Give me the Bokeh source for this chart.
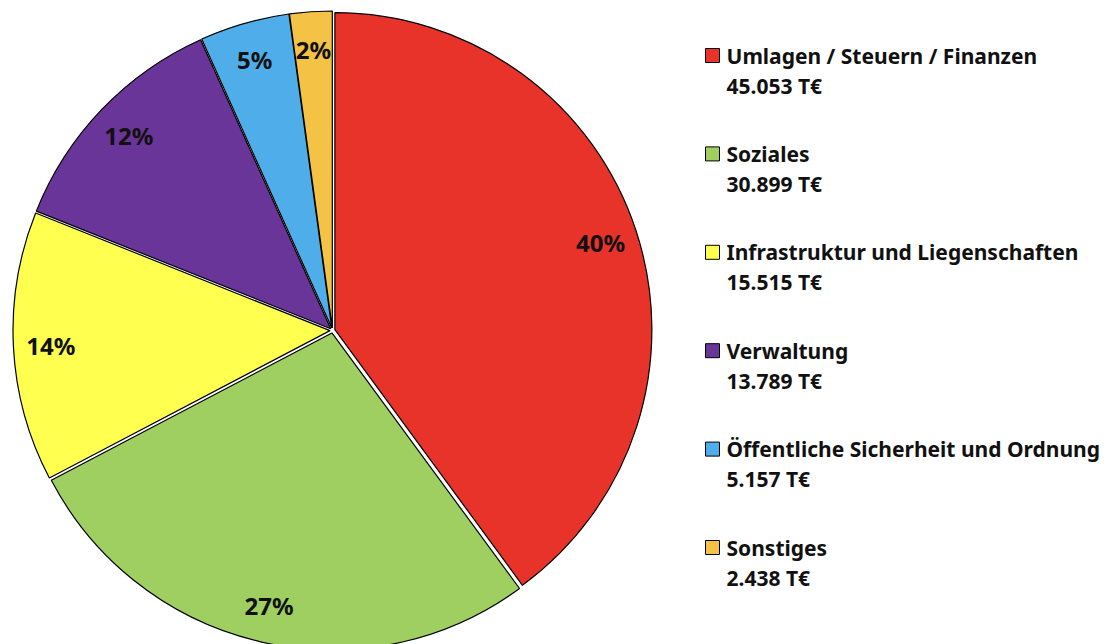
import math
from bokeh.plotting import figure
from bokeh.models import Range1d
from bokeh.core.properties import value
from bokeh.embed import file_html
from bokeh.resources import INLINE

categories = ["Umlagen / Steuern / Finanzen", "Soziales", "Infrastruktur und Liegenschaften",
              "Verwaltung", "Öffentliche Sicherheit und Ordnung", "Sonstiges"]
values = [45053, 30899, 15515, 13789, 5157, 2438]
value_labels = ["45.053 T€", "30.899 T€", "15.515 T€", "13.789 T€", "5.157 T€", "2.438 T€"]
pct_labels = ["40%", "27%", "14%", "12%", "5%", "2%"]
colors = ["#E8332A", "#9FCF60", "#FFFF50", "#6A3599", "#4FAEEA", "#F4C245"]

W, H = 1115, 644
CX, CY, R = 332, 644 - 330, 317
EXPLODE = 2.5
FONT = "Noto Sans"

p = figure(width=W, height=H, x_range=Range1d(0, W), y_range=Range1d(0, H),
           output_backend="svg", toolbar_location=None, min_border=0)
p.axis.visible = False
p.grid.visible = False
p.outline_line_color = None

total = sum(values)
start = math.pi / 2
xs, ys, starts, ends, lx, ly = [], [], [], [], [], []
for v in values:
    sweep = 2 * math.pi * v / total
    end = start - sweep
    mid = (start + end) / 2
    xs.append(CX + EXPLODE * math.cos(mid))
    ys.append(CY + EXPLODE * math.sin(mid))
    starts.append(end)
    ends.append(start)
    lx.append(CX + 0.89 * R * math.cos(mid))
    ly.append(CY + 0.89 * R * math.sin(mid))
    start = end

p.wedge(x=xs, y=ys, radius=R, start_angle=starts, end_angle=ends,
        fill_color=colors, line_color="black", line_width=1.2)

p.text(x=lx, y=ly, text=pct_labels, text_font=value(FONT), text_font_style="bold",
       text_font_size="24px", text_align="center", text_baseline="middle", text_color="#111111")

# legend
LX = 712
top = 644 - 55
step = 98.4
sq_y = [top - i * step for i in range(len(categories))]
val_y = [y - 30 for y in sq_y]
p.rect(x=[LX] * len(categories), y=sq_y, width=14, height=14, fill_color=colors,
       line_color="black", line_width=1)
p.text(x=[LX + 14] * len(categories), y=sq_y, text=categories, text_font=value(FONT),
       text_font_style="bold", text_font_size="21px", text_baseline="middle", text_color="#111111")
p.text(x=[LX + 14] * len(categories), y=val_y, text=value_labels, text_font=value(FONT),
       text_font_style="bold", text_font_size="21px", text_baseline="middle", text_color="#111111")

open("out.html", "w").write(file_html(p, INLINE))
